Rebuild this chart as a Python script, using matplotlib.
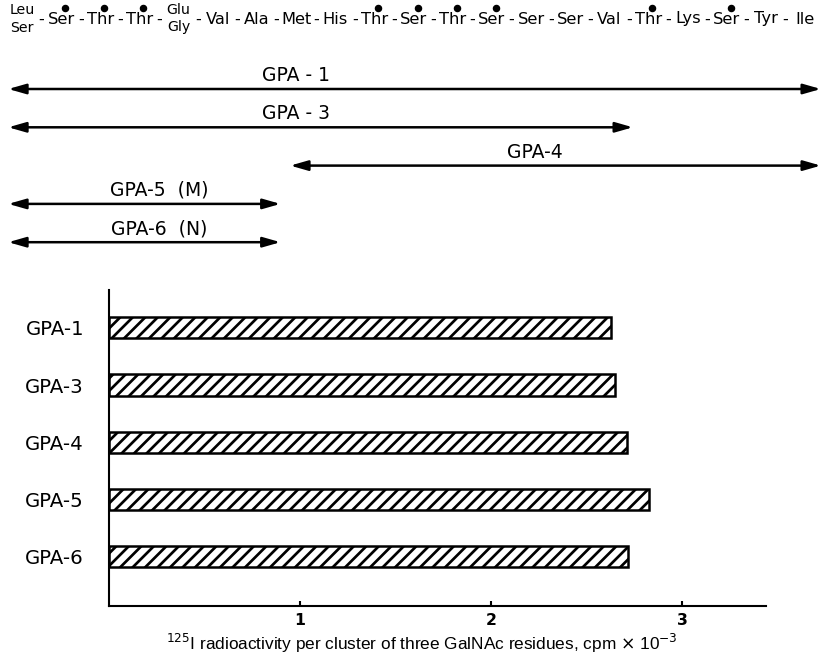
import matplotlib
matplotlib.use('Agg')
import matplotlib.pyplot as plt

# peptide sequence of the N-terminal region (1-21); stacked entries are M/N variants
residues = ['Leu/Ser', 'Ser', 'Thr', 'Thr', 'Glu/Gly', 'Val', 'Ala', 'Met', 'His', 'Thr',
            'Ser', 'Thr', 'Ser', 'Ser', 'Ser', 'Val', 'Thr', 'Lys', 'Ser', 'Tyr', 'Ile']
glycosylated = [2, 3, 4, 10, 11, 12, 13, 17, 19]

# glycopeptide spans, in residue numbers
span_names = ['GPA - 1', 'GPA - 3', 'GPA-4', 'GPA-5  (M)', 'GPA-6  (N)']
span_start = [0.65, 0.65, 7.85, 0.65, 0.65]
span_end = [21.4, 16.6, 21.4, 7.6, 7.6]
span_label_at = [8.0, 8.0, 14.1, 4.5, 4.5]

# 125I radioactivity per cluster of three GalNAc residues (cpm x 10^-3)
peptides = ['GPA-1', 'GPA-3', 'GPA-4', 'GPA-5', 'GPA-6']
activity = [2.63, 2.65, 2.71, 2.83, 2.72]

DPI = 150
W, H = 822, 654
plt.rcParams['hatch.linewidth'] = 1.3
plt.rcParams['font.family'] = ['DejaVu Sans']

fig = plt.figure(figsize=(W / DPI, H / DPI), dpi=DPI)

# --- sequence and peptide map (pixel rows on y) ---
top_h = 262
axt = fig.add_axes([0, 1 - top_h / H, 1, top_h / H])
axt.set_xlim(0.438, 21.43)
axt.set_ylim(top_h, 0)
axt.axis('off')

seq_y = 19
for i, res in enumerate(residues, start=1):
    if '/' in res:
        up, low = res.split('/')
        axt.text(i, seq_y - 1.5, up, ha='center', va='bottom', fontsize=6.8)
        axt.text(i, seq_y + 1.5, low, ha='center', va='top', fontsize=6.8)
    else:
        axt.text(i, seq_y, res, ha='center', va='center', fontsize=7.8)
    if i < len(residues):
        axt.text(i + 0.5, seq_y, '-', ha='center', va='center', fontsize=7.8)
axt.plot([g + 0.1 for g in glycosylated], [seq_y - 11] * len(glycosylated), 'o',
         color='black', markersize=2.6)

row0, row_step = 89, 38.3
for k, name in enumerate(span_names):
    y = row0 + k * row_step
    axt.annotate('', xy=(span_end[k], y), xytext=(span_start[k], y),
                 arrowprops=dict(arrowstyle='<|-|>,head_length=0.7,head_width=0.2',
                                 color='black', lw=1.2, shrinkA=0, shrinkB=0,
                                 mutation_scale=10))
    axt.text(span_label_at[k], y - 4, name, ha='center', va='bottom', fontsize=9)

# --- bar chart ---
ax = fig.add_axes([109 / W, 48 / H, 657 / W, 316 / H])
pos = list(range(len(peptides)))
ax.barh(pos, activity, height=0.37, color='white', edgecolor='black',
        hatch='////', linewidth=1.2)
ax.set_xlim(0, 3.44)
ax.set_ylim(4.86, -0.66)
ax.set_yticks(pos)
ax.set_yticklabels(peptides, fontsize=9.5)
ax.set_xticks([1, 2, 3])
ax.set_xticklabels(['1', '2', '3'], fontsize=7.5, fontweight='bold')
ax.tick_params(axis='y', length=0, pad=12)
ax.tick_params(axis='x', direction='in', length=2.4, width=1, pad=3.5)
for s in ['top', 'right']:
    ax.spines[s].set_visible(False)
for s in ['left', 'bottom']:
    ax.spines[s].set_linewidth(1.0)
ax.set_xlabel(r'$^{125}$I radioactivity per cluster of three GalNAc residues, cpm $\times$ 10$^{-3}$',
              fontsize=8.3, family='Liberation Sans')
ax.xaxis.set_label_coords(0.476, -0.083)

fig.savefig('out.png', dpi=DPI)
